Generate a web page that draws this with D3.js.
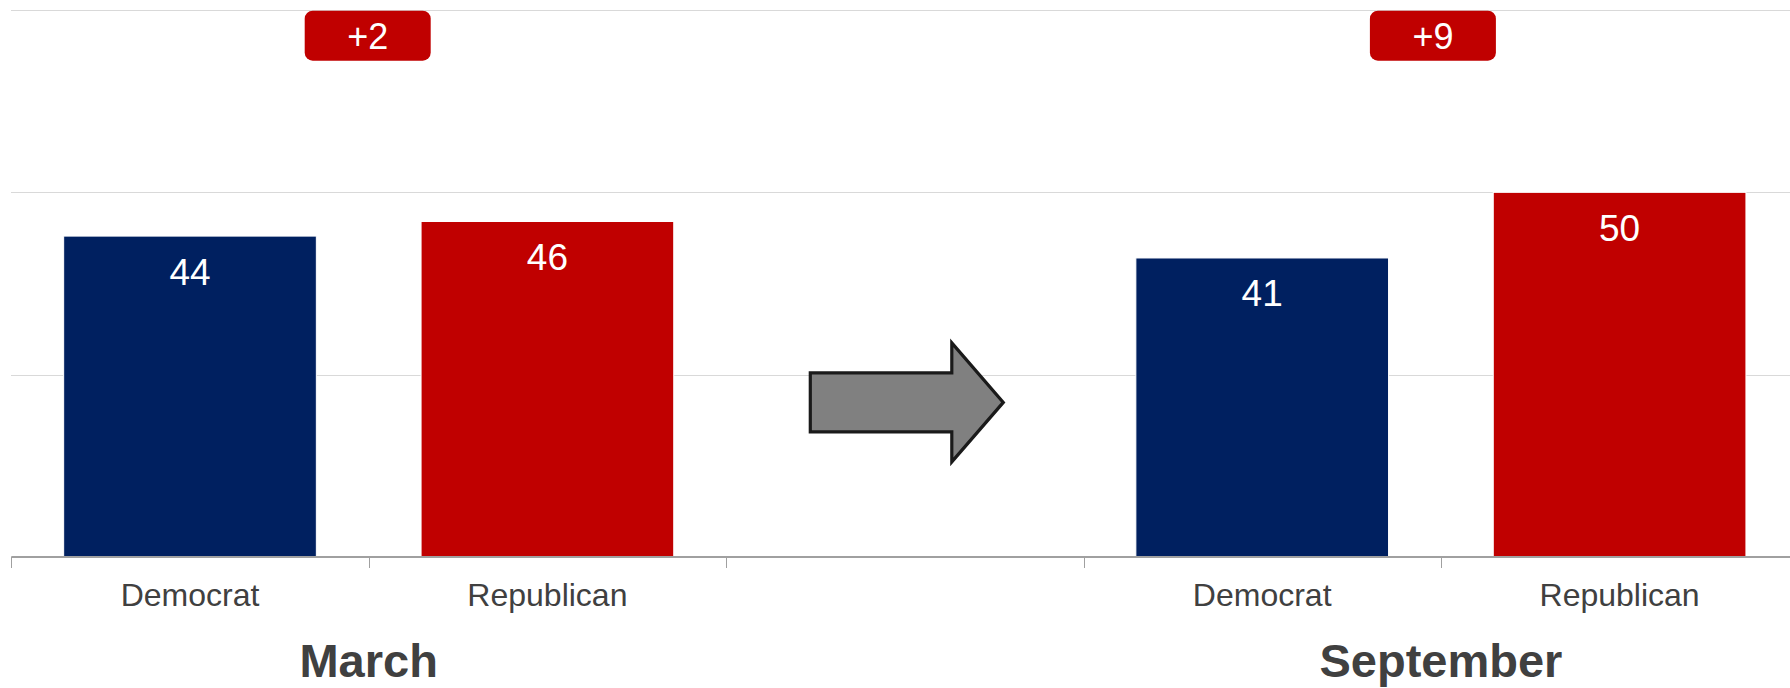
<!DOCTYPE html>
<html>
<head>
<meta charset="utf-8">
<script src="https://cdn.jsdelivr.net/npm/d3@7"></script>
<style>
  html, body { margin: 0; padding: 0; background: #ffffff; }
  svg { display: block; font-family: "Liberation Sans", Arial, sans-serif; }
</style>
</head>
<body>
<svg id="chart" width="1790" height="688"></svg>
<script>
// ---- data ----
const slots      = ["m-dem", "m-rep", "gap", "s-dem", "s-rep"];
const parties    = ["Democrat", "Republican", "", "Democrat", "Republican"];
const values     = [44, 46, null, 41, 50];
const periods    = ["March", "September"];
const margins    = ["+2", "+9"];
const yTicks     = [25, 50, 75];

const partyColor = { "Democrat": "#002060", "Republican": "#C00000" };

// ---- layout ----
const W = 1790, H = 688;
const svg = d3.select("#chart");

const x = d3.scaleBand()
  .domain(slots)
  .range([11.3, 1798.3])
  .paddingInner(0.293)
  .paddingOuter(0.1465);

const step = x.step();
const slotLeft = s => x(s) - x.paddingOuter() * step;   // band boundary (tick)
const slotCenter = s => x(s) + x.bandwidth() / 2;

const y = d3.scaleLinear().domain([0, 75]).range([557, 10]);

// gridlines
svg.append("g").selectAll("line")
  .data(yTicks)
  .join("line")
  .attr("x1", 11).attr("x2", W)
  .attr("y1", d => Math.round(y(d)) + 0.5)
  .attr("y2", d => Math.round(y(d)) + 0.5)
  .attr("stroke", "#d9d9d9")
  .attr("stroke-width", 1);

// bars
const barData = slots.map((s, i) => ({ slot: s, party: parties[i], value: values[i] }))
  .filter(d => d.value !== null);

svg.append("g").selectAll("rect")
  .data(barData)
  .join("rect")
  .attr("x", d => x(d.slot))
  .attr("width", x.bandwidth())
  .attr("y", d => y(d.value))
  .attr("height", d => y(0) - y(d.value))
  .attr("fill", d => partyColor[d.party])
  .attr("stroke", "#ffffff")
  .attr("stroke-width", 1);

// value labels
svg.append("g").selectAll("text")
  .data(barData)
  .join("text")
  .attr("x", d => slotCenter(d.slot))
  .attr("y", d => y(d.value) + 48.5)
  .attr("text-anchor", "middle")
  .attr("fill", "#ffffff")
  .attr("font-size", "37px")
  .text(d => d.value);

// x axis line
svg.append("line")
  .attr("x1", 11.3).attr("x2", W)
  .attr("y1", y(0)).attr("y2", y(0))
  .attr("stroke", "#a0a0a0")
  .attr("stroke-width", 2);

// ticks at band boundaries
const tickXs = slots.map(slotLeft).concat([slotLeft(slots[slots.length - 1]) + step]);
svg.append("g").selectAll("line")
  .data(tickXs)
  .join("line")
  .attr("x1", d => Math.round(d) + 0.5).attr("x2", d => Math.round(d) + 0.5)
  .attr("y1", y(0)).attr("y2", y(0) + 11)
  .attr("stroke", "#a0a0a0")
  .attr("stroke-width", 1);

// category labels
svg.append("g").selectAll("text")
  .data(slots.map((s, i) => ({ slot: s, label: parties[i] })).filter(d => d.label))
  .join("text")
  .attr("x", d => slotCenter(d.slot))
  .attr("y", 606)
  .attr("text-anchor", "middle")
  .attr("fill", "#404040")
  .attr("font-size", "32px")
  .text(d => d.label);

// group (period) labels centred on boundary between Dem and Rep
const groupCenters = [slotLeft("m-rep"), slotLeft("s-rep")];
svg.append("g").selectAll("text")
  .data(periods)
  .join("text")
  .attr("x", (d, i) => groupCenters[i])
  .attr("y", 677)
  .attr("text-anchor", "middle")
  .attr("fill", "#404040")
  .attr("font-size", "47px")
  .attr("font-weight", "bold")
  .text(d => d);

// margin boxes
const boxW = 126, boxH = 50;
const boxG = svg.append("g").selectAll("g")
  .data(margins)
  .join("g")
  .attr("transform", (d, i) => `translate(${groupCenters[i] - 1 - i * 7},${10.7})`);
boxG.append("rect")
  .attr("x", -boxW / 2).attr("y", 0)
  .attr("width", boxW).attr("height", boxH)
  .attr("rx", 8).attr("ry", 8)
  .attr("fill", "#C00000");
boxG.append("text")
  .attr("x", 0).attr("y", 38.6)
  .attr("text-anchor", "middle")
  .attr("fill", "#ffffff")
  .attr("font-size", "36px")
  .text(d => d);

// arrow in the gap slot
const cx = slotCenter("gap");
const cy = y(21.2);
const aw = step * 0.54, headLen = 51.5, shaftHalf = 29.5, headHalf = 59.5;
const left = cx - aw / 2 + 2, tip = cx + aw / 2 + 2, headX = tip - headLen;
const pts = [
  [left, cy - shaftHalf], [headX, cy - shaftHalf], [headX, cy - headHalf],
  [tip, cy], [headX, cy + headHalf], [headX, cy + shaftHalf], [left, cy + shaftHalf]
];
svg.append("path")
  .attr("d", d3.line()(pts) + "Z")
  .attr("fill", "#808080")
  .attr("stroke", "#1a1a1a")
  .attr("stroke-width", 3.2)
  .attr("stroke-linejoin", "miter");
</script>
</body>
</html>
